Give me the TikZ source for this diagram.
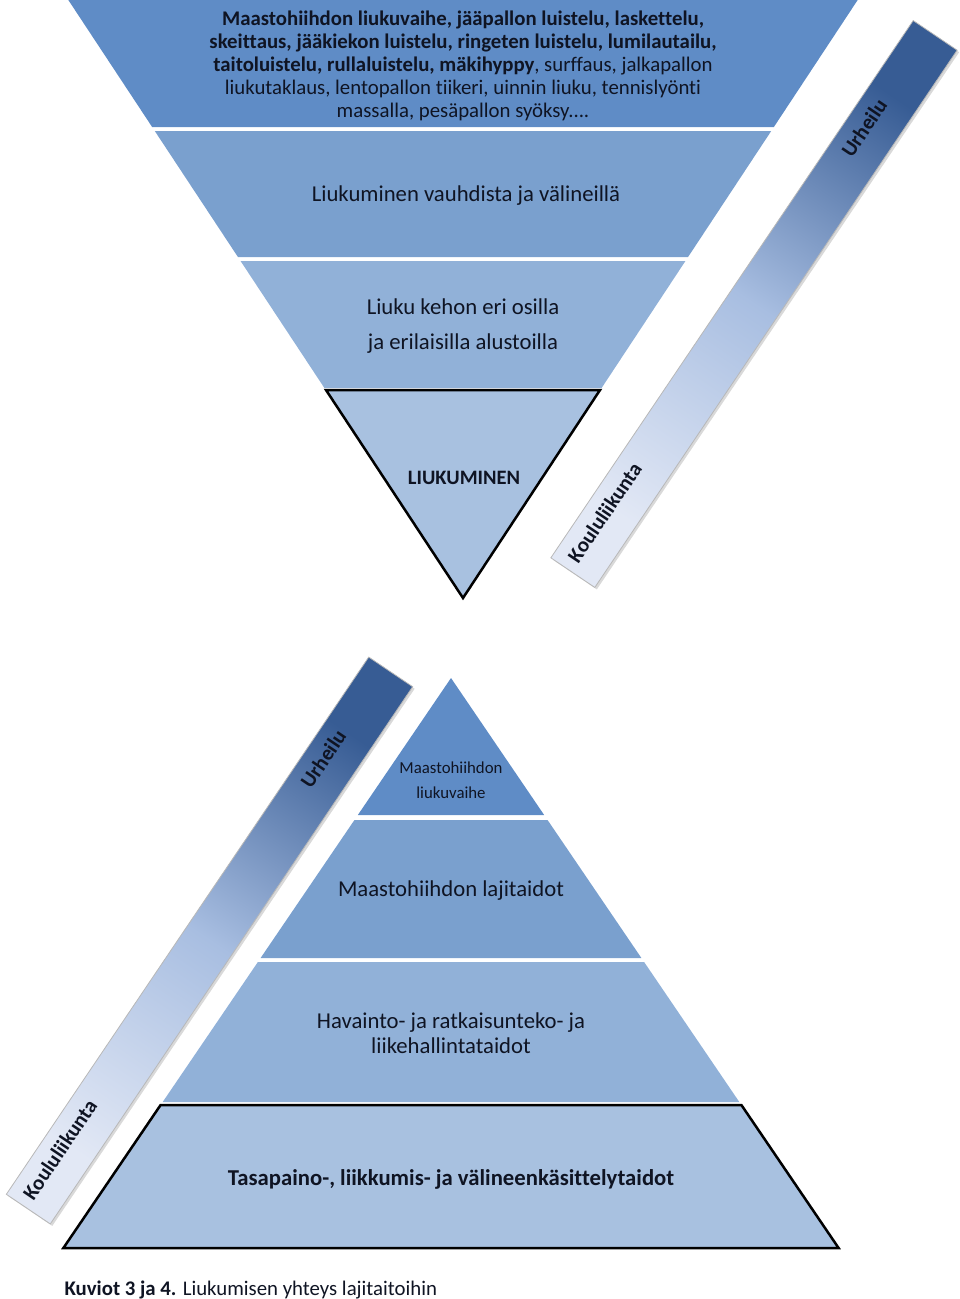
\documentclass[tikz,border=0pt]{standalone}
\usepackage{fontspec}
\setmainfont{Carlito}[Ligatures=NoCommon]
\usetikzlibrary{calc}
\usetikzlibrary{shadows}

\definecolor{layA}{RGB}{95,140,198}
\definecolor{layB}{RGB}{122,160,206}
\definecolor{layC}{RGB}{145,177,216}
\definecolor{layD}{RGB}{168,193,224}
\definecolor{ink}{RGB}{15,20,35}
\definecolor{barDark}{RGB}{55,92,148}
\definecolor{barMid}{RGB}{168,190,225}
\definecolor{barLight}{RGB}{226,232,245}

\tikzset{
  lbl/.style={text=ink, align=center, font=\fontsize{22.7}{25}\selectfont},
  small/.style={text=ink, align=center, font=\fontsize{20.8}{23}\selectfont},
  barbox/.style={draw=black!28, line width=0.8pt, rotate=56,
    minimum height=53pt, inner sep=0pt,
    top color=barDark, bottom color=barLight, middle color=barMid,
    shading angle=-34,
    drop shadow={shadow xshift=2pt, shadow yshift=-2pt, opacity=.3}},
  barlbl/.style={text=ink, rotate=56, anchor=base,
    font=\bfseries\fontsize{21}{24}\selectfont},
}

\begin{document}
\begin{tikzpicture}[x=1pt, y=-1pt]
\useasboundingbox (0,0) rectangle (960,1299);

% upper picture: upside-down pyramid
\foreach \ya/\yb/\col in {0/127/layA, 131/257/layB, 261/388/layC}{
  \fill[\col] ({463-(598-\ya)*0.66},\ya) -- ({463+(598-\ya)*0.66},\ya)
    -- ({463+(598-\yb)*0.66},\yb) -- ({463-(598-\yb)*0.66},\yb) -- cycle;
}
\filldraw[fill=layD, draw=black, line width=2.5pt, line join=miter]
  (326,390) -- (600,390) -- (463,598) -- cycle;

\node[small] (sports) at (463,66) {\textbf{Maastohiihdon liukuvaihe, jääpallon luistelu, laskettelu,}\\
  \textbf{skeittaus, jääkiekon luistelu, ringeten luistelu, lumilautailu,}\\
  \textbf{taitoluistelu, rullaluistelu, mäkihyppy}, surffaus, jalkapallon\\
  liukutaklaus, lentopallon tiikeri, uinnin liuku, tennislyönti\\
  massalla, pesäpallon syöksy....};
\node[lbl] (tools) at (466,196) {Liukuminen vauhdista ja välineillä};
\node[lbl, font=\fontsize{22.7}{35}\selectfont] (body) at (463,326) {Liuku kehon eri osilla\\ja erilaisilla alustoilla};
\node[lbl, font=\bfseries\fontsize{20.5}{24}\selectfont] (core) at (464,478) {LIUKUMINEN};

\node[barbox, minimum width=648pt] (barUp) at (754,304) {};
\node[barlbl] (sportUp) at ($(barUp.west)!0.82!(barUp.east)$) {Urheilu};
\node[barlbl] (schoolUp) at ($(barUp.west)!0.105!(barUp.east)$) {Koululiikunta};

% lower picture: pyramid
\fill[layA] (451,678) -- ({451+137*0.68},815) -- ({451-137*0.68},815) -- cycle;
\foreach \ya/\yb/\col in {820/958/layB, 962/1102/layC}{
  \fill[\col] ({451-(\ya-678)*0.68},\ya) -- ({451+(\ya-678)*0.68},\ya)
    -- ({451+(\yb-678)*0.68},\yb) -- ({451-(\yb-678)*0.68},\yb) -- cycle;
}
\filldraw[fill=layD, draw=black, line width=2.5pt, line join=miter]
  (160.6,1105) -- (741.4,1105) -- (838.6,1248) -- (63.4,1248) -- cycle;

\node[lbl, font=\fontsize{16.8}{25}\selectfont] (ski) at (451,780) {Maastohiihdon\\liukuvaihe};
\node[lbl] (skills) at (451,891) {Maastohiihdon lajitaidot};
\node[lbl] (percept) at (451,1033) {Havainto- ja ratkaisunteko- ja\\liikehallintataidot};
\node[lbl, font=\bfseries\fontsize{22.7}{25}\selectfont] (basic) at (451,1179) {Tasapaino-, liikkumis- ja välineenkäsittelytaidot};

\node[barbox, minimum width=648pt] (barLow) at (209.5,940.5) {};
\node[barlbl] (sportLow) at ($(barLow.west)!0.83!(barLow.east)$) {Urheilu};
\node[barlbl] (schoolLow) at ($(barLow.west)!0.104!(barLow.east)$) {Koululiikunta};

\node[small, anchor=west] (caption) at (61,1290) {\textbf{Kuviot 3 ja 4.} Liukumisen yhteys lajitaitoihin};
\end{tikzpicture}
\end{document}
